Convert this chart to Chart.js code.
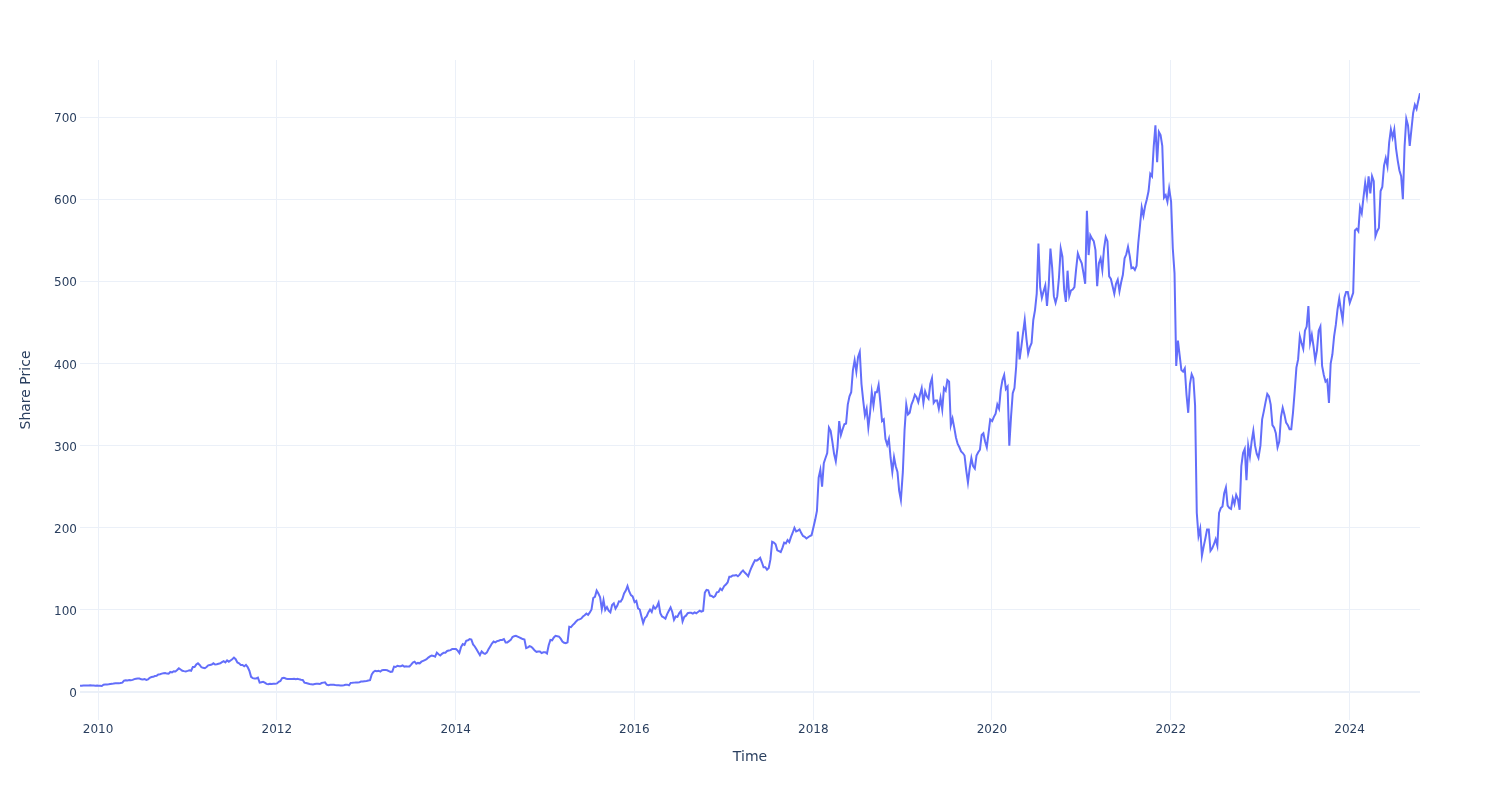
<!DOCTYPE html>
<html>
<head>
<meta charset="utf-8">
<script src="https://cdn.jsdelivr.net/npm/chart.js@4/dist/chart.umd.min.js"></script>
<style>
  html, body { margin: 0; padding: 0; background: #fff; }
  #wrap { width: 1500px; height: 800px; }
</style>
</head>
<body>
<div id="wrap"><canvas id="chart" width="1500" height="800"></canvas></div>
<script>
// Weekly closing prices (split-adjusted).
// 2009 starts 19 Oct; every other year starts 2 Jan, one value per week.
const firstDay2009 = '2009-10-19';

const price2009 = [7.6, 7.8, 7.9, 8.0, 8.1, 8.0, 8.2, 8.0, 7.9, 7.8, 7.9];
const price2010 = [
  7.7, 7.6, 7.4, 8.9, 9.1, 9.3, 9.5, 9.8, 10.0, 10.4, 10.6, 10.8,
  10.6, 11.0, 11.4, 14.0, 14.5, 14.2, 14.6, 14.3, 14.8, 15.8, 16.3, 16.5,
  16.5, 15.5, 15.3, 15.8, 14.9, 15.5, 17.4, 18.3, 18.6, 19.5, 19.8, 21.5,
  21.8, 22.5, 23.0, 23.2, 22.5, 22.3, 24.5, 24.0, 25.4, 25.0, 26.8, 29.0,
  27.5, 26.0, 25.5, 25.2];
const price2011 = [
  25.8, 26.5, 26.0, 30.5, 30.5, 33.5, 35.0, 33.0, 30.2, 29.5, 29.0, 30.5,
  32.5, 33.0, 33.5, 35.0, 33.5, 33.8, 34.5, 35.0, 36.5, 37.5, 36.0, 38.5,
  37.0, 38.5, 40.0, 42.0, 40.0, 36.0, 35.0, 33.0, 33.0, 31.5, 33.0, 30.5,
  26.0, 18.5, 17.0, 16.5, 16.5, 17.5, 11.5, 12.0, 12.5, 11.5, 10.0, 9.5,
  10.0, 9.8, 10.0, 10.0];
const price2012 = [
  10.5, 12.5, 13.5, 17.0, 17.5, 16.5, 16.0, 15.8, 16.0, 15.8, 16.2, 15.7,
  16.2, 15.5, 15.0, 14.7, 11.5, 11.0, 10.5, 9.8, 9.5, 9.2, 9.7, 10.0,
  10.2, 9.8, 11.0, 11.5, 11.8, 9.0, 8.4, 8.8, 9.0, 8.8, 8.5, 8.3,
  8.2, 8.0, 8.1, 8.3, 8.9, 9.0, 8.2, 11.2, 11.3, 11.5, 11.7, 11.6,
  11.8, 12.8, 13.0, 13.2];
const price2013 = [
  13.5, 14.0, 14.5, 21.5, 24.5, 26.0, 25.5, 26.0, 25.0, 26.5, 26.8, 27.0,
  26.5, 25.5, 24.5, 25.0, 31.0, 30.5, 32.0, 31.5, 31.5, 32.5, 31.0, 31.5,
  31.0, 31.2, 33.5, 36.0, 37.0, 34.5, 35.5, 35.0, 37.0, 38.0, 39.0, 40.0,
  42.0, 43.5, 44.5, 44.0, 43.0, 48.0, 46.0, 44.5, 46.5, 48.0, 48.0, 50.0,
  50.5, 51.0, 52.5, 52.5];
const price2014 = [
  52.5, 50.5, 47.5, 55.0, 58.5, 57.5, 62.5, 63.0, 64.5, 64.0, 58.0, 55.5,
  52.0, 48.5, 45.0, 49.5, 47.5, 46.5, 48.0, 52.0, 55.5, 59.0, 61.5, 60.5,
  62.0, 62.5, 63.5, 63.5, 64.5, 60.5, 60.5, 62.0, 63.5, 67.0, 68.0, 68.5,
  67.5, 66.5, 65.5, 64.5, 64.0, 53.5, 54.5, 56.0, 55.0, 53.0, 50.5, 49.0,
  49.5, 49.5, 47.5, 48.5];
const price2015 = [
  48.5, 47.0, 57.0, 63.5, 63.0, 66.5, 68.5, 68.0, 67.5, 65.0, 61.5, 60.0,
  59.5, 60.5, 79.5, 79.0, 81.5, 83.5, 86.0, 88.0, 88.5, 89.5, 92.0, 93.5,
  95.5, 94.0, 97.0, 100.5, 114.5, 116.0, 123.5, 120.0, 115.5, 101.0, 112.0, 100.0,
  103.5, 99.0, 97.0, 106.0, 108.0, 101.5, 105.0, 110.5, 110.0, 113.5, 120.0, 123.5,
  129.0, 122.5, 118.0, 116.5];
const price2016 = [
  109.5, 111.0, 102.0, 100.5, 92.0, 84.0, 90.0, 92.0, 97.0, 100.5, 97.5, 104.5,
  101.5, 104.0, 109.0, 96.0, 92.0, 91.0, 89.5, 95.0, 99.0, 103.0, 97.5, 88.0,
  92.0, 91.5, 96.0, 98.5, 86.0, 91.5, 93.0, 96.0, 96.5, 96.5, 95.5, 97.0,
  96.0, 97.5, 99.0, 98.0, 99.0, 121.0, 124.5, 124.0, 117.5, 117.0, 115.5, 117.0,
  121.5, 122.0, 126.0, 124.0];
const price2017 = [
  129.0, 131.0, 133.5, 140.5, 140.5, 142.0, 142.0, 142.5, 141.0, 143.0, 146.0, 148.0,
  145.5, 143.5, 141.0, 147.0, 152.0, 156.5, 160.5, 160.0, 161.5, 163.5, 158.0, 152.0,
  152.0, 149.0, 151.0, 161.5, 183.0, 182.0, 180.0, 172.5, 171.5, 170.5, 175.5, 182.0,
  181.0, 185.0, 182.5, 189.0, 194.0, 200.0, 195.5, 196.5, 198.0, 193.5, 190.0, 189.0,
  187.0, 188.5, 190.0, 191.0];
const price2018 = [
  201.0, 210.0, 220.5, 261.0, 270.5, 250.0, 278.5, 285.0, 291.0, 322.0, 318.0, 305.0,
  290.0, 281.0, 298.0, 330.0, 313.0, 320.0, 326.0, 327.0, 350.0, 360.0, 365.0, 392.0,
  404.0, 390.0, 408.0, 414.0, 375.0, 355.0, 337.0, 345.0, 322.0, 340.0, 365.0, 349.0,
  365.0, 365.0, 374.0, 353.0, 330.0, 332.0, 308.0, 301.0, 308.0, 285.0, 268.0, 286.0,
  275.0, 268.0, 245.0, 234.0];
const price2019 = [
  268.0, 319.0, 350.0, 338.0, 340.0, 350.0, 355.0, 362.0, 359.0, 353.0, 362.0, 370.0,
  352.0, 366.0, 360.0, 357.0, 375.0, 382.0, 352.0, 355.0, 355.0, 345.0, 358.0, 344.0,
  370.0, 367.0, 380.0, 378.0, 325.0, 333.0, 322.0, 310.0, 302.0, 298.0, 293.0, 291.0,
  288.0, 270.0, 255.0, 272.0, 285.0, 275.0, 272.0, 288.0, 292.0, 295.0, 313.0, 315.0,
  305.0, 298.0, 315.0, 332.0];
const price2020 = [
  330.0, 335.0, 339.0, 350.0, 345.0, 368.0, 380.0, 386.0, 369.0, 372.0, 300.0, 335.0,
  364.0, 370.0, 396.0, 439.0, 405.0, 420.0, 437.0, 453.0, 430.0, 412.0, 420.0, 425.0,
  453.0, 465.0, 485.0, 546.0, 493.0, 480.0, 488.0, 495.0, 470.0, 495.0, 540.0, 517.0,
  482.0, 474.0, 482.0, 505.0, 540.0, 530.0, 490.0, 475.0, 513.0, 482.0, 489.0, 490.0,
  493.0, 515.0, 534.0, 528.0];
const price2021 = [
  522.0, 510.0, 497.0, 586.0, 532.0, 556.0, 552.0, 549.0, 538.0, 494.0, 522.0, 528.0,
  514.0, 540.0, 554.0, 549.0, 506.0, 503.0, 494.0, 485.0, 497.0, 502.0, 488.0, 499.0,
  508.0, 528.0, 533.0, 542.0, 531.0, 516.0, 517.0, 514.0, 519.0, 547.0, 568.0, 590.0,
  580.0, 592.0, 600.0, 610.0, 631.0, 628.0, 664.0, 690.0, 645.0, 682.0, 678.0, 665.0,
  602.0, 605.0, 597.0, 613.0];
const price2022 = [
  597.0, 540.0, 510.0, 397.0, 428.0, 410.0, 392.0, 390.0, 394.0, 362.0, 340.0, 375.0,
  387.0, 382.0, 349.0, 218.0, 190.0, 199.0, 166.0, 177.0, 187.0, 198.0, 198.0, 172.0,
  175.0, 180.0, 186.0, 178.0, 218.0, 224.0, 226.0, 242.0, 249.0, 227.0, 224.0, 223.0,
  236.0, 229.0, 240.0, 235.0, 222.0, 275.0, 291.0, 296.0, 258.0, 300.0, 287.0, 305.0,
  318.0, 300.0, 290.0, 285.0];
const price2023 = [
  300.0, 332.0, 342.0, 353.0, 363.0, 360.0, 350.0, 325.0, 322.0, 315.0, 298.0, 305.0,
  335.0, 346.0, 338.0, 328.0, 325.0, 320.0, 320.0, 340.0, 366.0, 395.0, 405.0, 433.0,
  425.0, 418.0, 440.0, 445.0, 470.0, 425.0, 435.0, 421.0, 404.0, 416.0, 440.0, 445.0,
  397.0, 386.0, 378.0, 380.0, 352.0, 400.0, 411.0, 433.0, 447.0, 466.0, 479.0, 465.0,
  453.0, 480.0, 487.0, 487.0];
const price2024 = [
  474.0, 480.0, 486.0, 562.0, 564.0, 561.0, 590.0, 583.0, 602.0, 620.0, 605.0, 628.0,
  607.0, 628.0, 622.0, 555.0, 561.0, 565.0, 610.0, 615.0, 641.0, 650.0, 640.0, 669.0,
  685.0, 675.0, 685.0, 662.0, 647.0, 635.0, 628.0, 600.0, 664.0, 698.0, 690.0, 665.0,
  685.0, 705.0, 715.0, 710.0, 720.0, 729.0];

const years = [2009, 2010, 2011, 2012, 2013, 2014, 2015, 2016,
  2017, 2018, 2019, 2020, 2021, 2022, 2023, 2024];
const yearPrices = [price2009, price2010, price2011, price2012, price2013,
  price2014, price2015, price2016, price2017, price2018, price2019,
  price2020, price2021, price2022, price2023, price2024];

const xTickYears = [2010, 2012, 2014, 2016, 2018, 2020, 2022, 2024];
const yTicks = [0, 100, 200, 300, 400, 500, 600, 700];

const DAY = 86400000;
const FONT = "'DejaVu Sans', Verdana, sans-serif";
const TEXT = '#2a3f5f';
const GRID = '#ebf0f8';

// Build {x: timestamp, y: price} points
const points = [];
years.forEach((yr, k) => {
  const start = yr === 2009 ? Date.parse(firstDay2009) : Date.UTC(yr, 0, 2);
  yearPrices[k].forEach((v, i) => points.push({ x: start + i * 7 * DAY, y: v }));
});

new Chart(document.getElementById('chart'), {
  type: 'line',
  data: {
    datasets: [{
      data: points,
      borderColor: '#636efa',
      borderWidth: 2,
      pointRadius: 0,
      tension: 0,
      fill: false,
    }],
  },
  options: {
    responsive: false,
    animation: false,
    layout: { padding: { left: 0, right: 80, top: 60, bottom: 0 } },
    plugins: { legend: { display: false }, tooltip: { enabled: false } },
    scales: {
      x: {
        type: 'linear',
        min: points[0].x,
        max: points[points.length - 1].x,
        afterBuildTicks: (scale) => {
          scale.ticks = xTickYears.map((y) => ({ value: Date.UTC(y, 0, 1) }));
        },
        afterFit: (scale) => { scale.height = 80; },
        grid: { color: GRID, lineWidth: 1, drawTicks: false },
        border: { display: false },
        ticks: {
          color: TEXT,
          font: { family: FONT, size: 12 },
          padding: 3,
          maxRotation: 0,
          callback: (v) => new Date(v).getUTCFullYear(),
        },
        title: {
          display: true,
          text: 'Time',
          color: TEXT,
          font: { family: FONT, size: 14 },
          padding: { top: 0, bottom: 34 },
        },
      },
      y: {
        type: 'linear',
        min: -34,
        max: 769.5,
        afterBuildTicks: (scale) => {
          scale.ticks = yTicks.map((v) => ({ value: v }));
        },
        afterFit: (scale) => { scale.width = 80; },
        grid: {
          color: GRID,
          lineWidth: (ctx) => (ctx.tick && ctx.tick.value === 0 ? 2 : 1),
          drawTicks: false,
        },
        border: { display: false },
        ticks: {
          color: TEXT,
          font: { family: FONT, size: 12 },
          padding: 3,
          labelOffset: 2,
        },
        title: {
          display: true,
          text: 'Share Price',
          color: TEXT,
          font: { family: FONT, size: 14 },
          padding: { top: 18, bottom: 0 },
        },
      },
    },
  },
});
</script>
</body>
</html>
